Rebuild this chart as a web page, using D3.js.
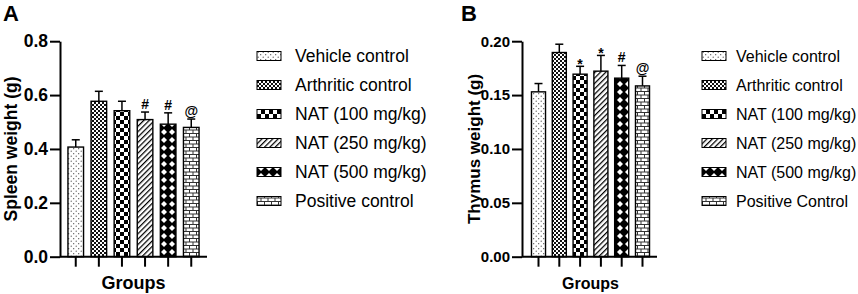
<!DOCTYPE html>
<html><head><meta charset="utf-8">
<script src="https://cdn.jsdelivr.net/npm/d3@7"></script>
<style>
html,body{margin:0;padding:0;background:#fff;}
text{font-family:"Liberation Sans",Arial,sans-serif;}
</style></head>
<body>
<svg id="chart" width="858" height="294"></svg>
<script>
// ---- data ----
const groupsA = ["Vehicle control","Arthritic control","NAT (100 mg/kg)","NAT (250 mg/kg)","NAT (500 mg/kg)","Positive control"];
const groupsB = ["Vehicle control","Arthritic control","NAT (100 mg/kg)","NAT (250 mg/kg)","NAT (500 mg/kg)","Positive Control"];
const spleenMean = [0.407, 0.577, 0.542, 0.509, 0.492, 0.480];
const spleenErr  = [0.027, 0.037, 0.035, 0.028, 0.042, 0.031];
const spleenSig  = ["", "", "", "#", "#", "@"];
const thymusMean = [0.1530, 0.1895, 0.1694, 0.1722, 0.1657, 0.1585];
const thymusErr  = [0.0077, 0.0077, 0.0073, 0.0146, 0.0118, 0.0090];
const thymusSig  = ["", "", "*", "*", "#", "@"];
const spleenTicks = [0, 0.2, 0.4, 0.6, 0.8];
const thymusTicks = [0, 0.05, 0.10, 0.15, 0.20];
const patternIds = ["pDots","pFine","pChecker","pDiag","pDiamond","pBrick"];

const svg = d3.select("#chart");
const defs = svg.append("defs");

// patterns
function pat(id, w, h, transform){
  const p = defs.append("pattern").attr("id", id).attr("patternUnits","userSpaceOnUse")
    .attr("width", w).attr("height", h);
  if (transform) p.attr("patternTransform", transform);
  return p;
}
{ const p = pat("pDots", 5, 5);
  p.append("rect").attr("width",5).attr("height",5).attr("fill","#fff");
  p.append("circle").attr("cx",1.2).attr("cy",1.2).attr("r",0.6).attr("fill","#444");
  p.append("circle").attr("cx",3.7).attr("cy",3.7).attr("r",0.6).attr("fill","#444"); }
{ const p = pat("pFine", 4, 4);
  p.append("rect").attr("width",4).attr("height",4).attr("fill","#fff");
  p.append("rect").attr("width",2).attr("height",2).attr("fill","#111");
  p.append("rect").attr("x",2).attr("y",2).attr("width",2).attr("height",2).attr("fill","#111"); }
{ const p = pat("pChecker", 8, 8);
  p.append("rect").attr("width",8).attr("height",8).attr("fill","#fff");
  p.append("rect").attr("width",4).attr("height",4).attr("fill","#000");
  p.append("rect").attr("x",4).attr("y",4).attr("width",4).attr("height",4).attr("fill","#000"); }
{ const p = pat("pDiag", 3.8, 3.8, "rotate(45)");
  p.append("rect").attr("width",3.8).attr("height",3.8).attr("fill","#fff");
  p.append("line").attr("x1",0.6).attr("x2",0.6).attr("y1",0).attr("y2",3.8).attr("stroke","#000").attr("stroke-width",1.3); }
{ const p = pat("pDiamond", 8, 8);
  p.append("rect").attr("width",8).attr("height",8).attr("fill","#000");
  p.append("polygon").attr("points","4,1 7,4 4,7 1,4").attr("fill","#fff"); }
{ const p = pat("pBrick", 7, 7);
  p.append("rect").attr("width",7).attr("height",7).attr("fill","#fff");
  p.append("line").attr("x1",0).attr("x2",7).attr("y1",0.5).attr("y2",0.5).attr("stroke","#333").attr("stroke-width",1);
  p.append("line").attr("x1",0).attr("x2",7).attr("y1",4).attr("y2",4).attr("stroke","#333").attr("stroke-width",1);
  p.append("line").attr("x1",0.5).attr("x2",0.5).attr("y1",0.5).attr("y2",4).attr("stroke","#333").attr("stroke-width",1);
  p.append("line").attr("x1",4).attr("x2",4).attr("y1",4).attr("y2",7).attr("stroke","#333").attr("stroke-width",1); }

function panel(cfg){
  const g = svg.append("g");
  const y = d3.scaleLinear().domain(cfg.domain).range([256.7, 41.2]);
  const x = d3.scaleBand().domain(cfg.groups).range(cfg.xRange).paddingInner(0.325).paddingOuter(0.1625);

  const data = cfg.groups.map((gname,i)=>({g:gname, m:cfg.mean[i], e:cfg.err[i], s:cfg.sig[i], p:patternIds[i]}));
  // error bars
  g.selectAll(".eb").data(data).join("line")
    .attr("x1", d=>x(d.g)+x.bandwidth()/2).attr("x2", d=>x(d.g)+x.bandwidth()/2)
    .attr("y1", d=>y(d.m)).attr("y2", d=>y(d.m+d.e))
    .attr("stroke","#000").attr("stroke-width",1.5);
  g.selectAll(".cap").data(data).join("line")
    .attr("x1", d=>x(d.g)+x.bandwidth()/2-4).attr("x2", d=>x(d.g)+x.bandwidth()/2+4)
    .attr("y1", d=>y(d.m+d.e)).attr("y2", d=>y(d.m+d.e))
    .attr("stroke","#000").attr("stroke-width",1.5);
  g.selectAll(".bar").data(data).join("rect")
    .attr("x", d=>x(d.g)).attr("width", x.bandwidth())
    .attr("y", d=>y(d.m)).attr("height", d=>y(0)-y(d.m))
    .attr("fill", d=>`url(#${d.p})`).attr("stroke","#000").attr("stroke-width",1.4);
  // significance marks
  g.selectAll(".sig").data(data.filter(d=>d.s)).join("text")
    .attr("x", d=>x(d.g)+x.bandwidth()/2)
    .attr("y", d=>y(d.m+d.e) + (d.s==="*" ? 3 : -3))
    .attr("text-anchor","middle").attr("font-size", cfg.sigSize).attr("font-weight", "bold")
    .text(d=>d.s);

  // y axis
  const ya = g.append("g").attr("transform",`translate(${cfg.axisX},0)`)
    .call(d3.axisLeft(y).tickValues(cfg.ticks).tickFormat(d3.format(cfg.fmt)).tickSize(10).tickSizeOuter(0).tickPadding(2));
  ya.select(".domain").attr("stroke-width",2);
  ya.selectAll(".tick line").attr("stroke-width",2);
  ya.selectAll(".tick text").attr("font-size",cfg.tickSize).attr("font-weight","bold").attr("fill","#000")
    .attr("font-family","Liberation Sans, Arial, sans-serif");

  // x axis
  const xa = g.append("g").attr("transform",`translate(0,${y(0)})`)
    .call(d3.axisBottom(x).tickSize(10).tickSizeOuter(0).tickFormat(""));
  xa.select(".domain").attr("d", `M${cfg.axisX},0H${cfg.xEnd}`).attr("stroke-width",2);
  xa.selectAll(".tick line").attr("stroke-width",2);

  // axis titles
  g.append("text").attr("x", (x.range()[0]+x.range()[1])/2).attr("y", 289)
    .attr("text-anchor","middle").attr("font-size",cfg.titleSize).attr("font-weight","bold").text("Groups");
  g.append("text").attr("transform",`translate(${cfg.ylabX},${(y(cfg.domain[0])+y(cfg.domain[1]))/2}) rotate(-90)`)
    .attr("text-anchor","middle").attr("font-size",cfg.ylabSize).attr("font-weight","bold").text(cfg.ylabel);
  g.append("text").attr("x",cfg.letterX).attr("y",21).attr("font-size",22).attr("font-weight","bold").text(cfg.letter);

  // legend
  const items = g.append("g").selectAll("g").data(data).join("g")
    .attr("transform",(d,i)=>`translate(${cfg.legX},${56+i*29})`);
  items.append("rect").attr("x",0).attr("y",-4.5).attr("width",24).attr("height",9)
    .attr("fill",d=>`url(#${d.p})`).attr("stroke","#000").attr("stroke-width",1);
  items.append("text").attr("x",cfg.legTextDx).attr("y",0).attr("dy","0.35em")
    .attr("font-size",cfg.legSize).text(d=>d.g);
}

panel({groups:groupsA, mean:spleenMean, err:spleenErr, sig:spleenSig, domain:[0,0.8], ticks:spleenTicks, fmt:".1f",
  xRange:[64.2,202.8], axisX:60, xEnd:207, ylabel:"Spleen weight (g)", ylabX:17, letter:"A", letterX:3,
  tickSize:17.5, titleSize:18, ylabSize:17.5, sigSize:14, legX:257, legTextDx:38, legSize:17.5});
panel({groups:groupsB, mean:thymusMean, err:thymusErr, sig:thymusSig, domain:[0,0.2], ticks:thymusTicks, fmt:".2f",
  xRange:[528.1,652.9], axisX:522, xEnd:657, ylabel:"Thymus weight (g)", ylabX:480, letter:"B", letterX:461,
  tickSize:15, titleSize:16, ylabSize:17, sigSize:14, legX:702, legTextDx:34, legSize:16});
</script>
</body></html>
